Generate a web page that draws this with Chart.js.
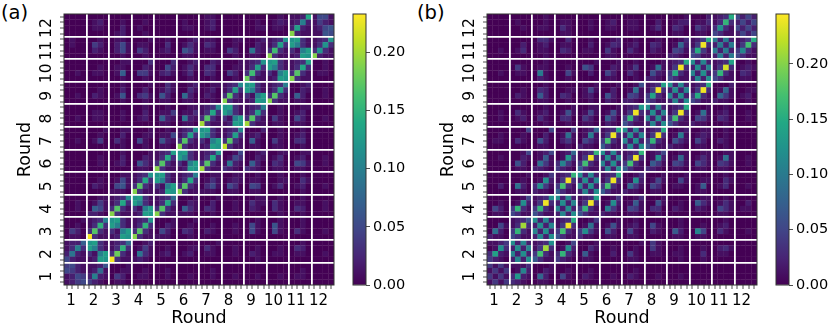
<!DOCTYPE html>
<html>
<head>
<meta charset="utf-8">
<script src="https://cdn.jsdelivr.net/npm/chart.js@4/dist/chart.umd.min.js"></script>
<style>
  body { margin: 0; background: #fff; }
  canvas { position: absolute; top: 0; }
  .soft { filter: blur(0.4px); }
  .tag { position: absolute; top: 0; font: 19.5px "DejaVu Sans"; line-height: 26px; color: #000; }
</style>
</head>
<body>
<span class="tag" style="left:1px">(a)</span>
<span class="tag" style="left:417px">(b)</span>
<canvas id="panelA" class="soft" width="345" height="329" style="left:0"></canvas>
<canvas id="barA" width="62" height="329" style="left:345px"></canvas>
<canvas id="panelB" class="soft" width="345" height="329" style="left:423px"></canvas>
<canvas id="barB" width="62" height="329" style="left:768px"></canvas>
<script>
// one char per cell, in hundredths (base 36), top row first, a space between rounds
const valuesA = [
"0000 0000 0000 0000 0000 0000 0110 0000 0000 0010 112e 1551",
"0000 0120 0010 0010 0000 0100 0120 0000 0010 0121 12a2 1421",
"0000 0110 0020 0100 0000 0110 0120 0000 0011 0110 2d21 1256",
"0000 0000 0120 0010 0000 0000 0000 0000 0000 0000 j211 1165",
"0100 0010 0110 0001 0010 0012 0110 0011 0012 123c cd31 123c",
"0100 0420 0251 0110 0030 0131 0320 0010 0021 13d3 da31 13c3",
"0000 0210 0251 0420 0120 0641 0110 0420 0921 3g31 31ad 3c31",
"0000 0000 0010 0010 0000 0110 0000 0010 0110 j311 12dc j211",
"0000 0000 0011 0003 0003 0012 0021 0001 123c cd31 123d 0010",
"0000 0010 0110 0021 0052 0131 0330 0011 13d3 da31 13e3 0010",
"0010 0110 0170 0441 0231 0130 0320 0420 3g31 31ad 3h31 0110",
"0000 0000 0010 0010 0000 0010 0010 0010 i311 12dc j311 0000",
"0000 0000 0010 0001 0031 0012 0011 123b cd31 123a 0012 0000",
"0000 0010 0020 0020 0131 0031 0120 13d3 da31 13d3 0021 0010",
"0010 0210 0160 0341 0620 0820 0210 3h31 31ad 3h31 0720 0010",
"0000 0000 0010 0010 0110 0110 0010 j311 12dc j311 0110 0000",
"0000 0000 0000 0010 0010 0011 123b cd31 123a 0010 0011 0000",
"0000 0110 0010 0020 0114 0113 13e3 da31 13d3 0010 0120 0000",
"0010 0110 0010 0120 0721 0921 3h31 31ad 3h31 0410 0520 0010",
"0000 0000 0000 0000 0110 0110 k311 12dc k311 0110 0110 0000",
"0000 0001 0011 0001 0010 123c cd31 123b 0002 0010 0010 0000",
"0000 0010 0020 0011 0115 13d3 da31 13d3 0120 0010 0120 0000",
"0010 0140 0310 0510 0621 3h31 31ad 3h31 0710 0410 0330 0000",
"0000 0000 0010 0010 0110 j311 12dc l311 0110 0110 0010 0000",
"0000 0000 0010 0001 123d cd31 123c 0015 0012 0011 0011 0000",
"0000 0010 0020 0021 13e3 da31 13e3 0153 0021 0130 0120 0010",
"0000 0010 0120 0631 3h31 31ad 3h31 1921 0720 0320 0541 0010",
"0000 0000 0000 0110 j311 12dc k311 3210 3210 0110 0110 0000",
"0000 0000 0011 123c cd31 123a 0011 0011 0010 0010 0010 0000",
"0000 0010 0151 13e3 da31 13e3 0131 0121 0110 0011 0031 0000",
"0000 0210 0561 3h31 31ad 3h31 0351 0530 0540 0130 0120 0010",
"0000 0000 1110 j311 12dc j311 1110 0110 0110 0000 0010 0000",
"0000 0011 123b cd31 1238 0001 0001 0000 0011 0010 0010 0000",
"0010 0141 13e3 da31 13e3 0021 0020 0010 0311 0310 0110 0010",
"0010 0751 3h31 31ad 3h31 0731 0320 0010 0210 0310 0320 0010",
"0000 2210 j311 12dc j311 1110 0010 0000 0000 0010 0010 0000",
"0001 123a cd31 123c 0001 0001 0000 0000 0010 0010 0010 0000",
"0010 13f3 da31 13f3 0021 0010 0010 0010 0510 0610 0010 0000",
"0420 3h31 31ad 3h31 0520 0320 0210 0010 0510 0510 0310 0010",
"0110 n311 12dc j311 1110 0010 0000 0000 0000 0000 0000 0000",
"1227 cd31 1238 0012 0000 0000 0001 0000 0000 0000 0010 0000",
"13a3 da31 13f3 0141 0010 0011 0310 0010 0010 0010 0320 0000",
"2921 31ad 3i31 0931 0120 0120 0110 0010 0210 0110 0110 0010",
"5211 12dc n311 1210 0000 0000 0000 0000 0010 0000 0000 0000",
"4521 1126 0001 0000 0000 0000 0000 0000 0000 0000 0000 0000",
"5421 1281 0011 0010 0010 0000 0010 0000 0000 0000 0010 0000",
"1254 2a21 0420 0110 0010 0010 0010 0010 0010 0010 0110 0000",
"1245 4210 0110 0000 0000 0000 0000 0000 0000 0000 0000 0000"
];
const valuesB = [
"0000 0000 0010 0000 0000 0000 0000 0000 0001 0002 123f 5252",
"0000 0100 0010 0110 0010 0120 0110 0020 0122 0113 13g3 2525",
"0000 0010 0110 0310 0010 0110 0110 0130 0320 0421 3c31 5252",
"0000 0000 0000 0110 0000 0000 0000 0000 0110 0110 5311 2525",
"0000 0000 0331 0030 0010 0012 0010 0010 0013 124f a2a2 124f",
"0000 0020 0120 0110 0020 0132 0120 0320 0182 14o3 2a2a 14h3",
"0010 0130 0110 0320 0110 0410 0310 0210 0541 4f41 a2a2 4b31",
"0000 0000 0010 0000 0000 0110 0000 0000 2210 5411 2a2a 5311",
"0000 0000 0010 0000 0001 0001 0010 0001 123f c2b2 123e 0010",
"0000 0410 0110 0010 0640 0021 0140 0191 14o3 2c2b 14n3 0121",
"0010 0110 0a10 0051 0020 0520 0310 0621 4f31 b2c2 4g31 0320",
"0000 0000 0210 0010 0000 0110 0010 2210 5311 2b2c 5311 0110",
"0000 0000 0010 0000 0001 0001 0016 123e c2b2 123f 0002 0000",
"0000 0010 0320 0011 0151 0020 0191 14o3 2c2b 14o3 0181 0011",
"0000 0210 0720 0320 0120 0620 0541 4e31 b2c2 4f31 0841 0120",
"0000 0000 0110 0010 0010 0210 2210 5311 2b2c 5311 2110 0010",
"0000 0000 0010 0001 0011 0001 123d c2b2 123f 0001 0010 0000",
"0010 0310 0120 0161 0151 0161 14o3 2c2b 14o3 0191 0120 0010",
"0010 0120 0310 0330 0420 0730 4g31 b2c2 4h31 0541 0320 0010",
"0000 0000 0010 0010 0110 0210 6311 2b2c 6311 2110 0010 0000",
"0000 0005 0005 0004 0128 123f c2b2 123f 0012 0011 0010 0000",
"0010 0010 0020 0191 01a1 14o3 2c2b 14o3 01a1 0121 0010 0000",
"0110 0310 0620 0241 0531 4h31 b2c2 4g31 0631 0520 0210 0000",
"0000 0000 0110 0010 2110 7311 2b2c 6311 2110 0110 0010 0000",
"0000 0015 0125 0128 123g c2b2 123g 0125 0011 0011 0011 0000",
"0010 0021 0171 01d3 14o3 2c2b 14o3 01c2 0181 0131 0191 0010",
"0000 0620 0941 3b41 4h31 b2c2 4h31 0741 0541 0531 0431 0010",
"0000 0110 2210 4210 7311 2b2c 7311 3210 0110 0110 0110 0000",
"0000 0001 0014 123g c2b2 123f 0013 0001 0001 0000 0010 0000",
"0000 0010 01c2 14o3 2c2b 14o3 01c2 0151 0051 0011 0031 0000",
"0020 0920 3c41 4h31 b2c2 4h31 0841 0530 0110 0170 0130 0010",
"0000 0110 2110 7311 2b2c 7311 2110 0110 0000 0110 0000 0000",
"0000 0015 123c c2b2 123e 0014 0013 0001 0000 0011 0010 0000",
"0010 01c2 14o3 2c2b 14o3 01c2 0171 0061 0010 0731 0131 0020",
"0520 4g31 4g31 b2c2 4g31 0a41 0541 0330 0210 0210 0531 0110",
"0110 5311 6311 2b2c 6311 2110 0110 0010 0000 0000 0110 0000",
"0000 1236 c2b2 123f 0014 0001 0010 0000 0010 0000 0010 0000",
"0051 13l3 2c2b 14o3 0191 0161 0120 0510 0010 0010 0120 0000",
"0920 4g31 b2c2 4h31 4c41 0620 0510 0210 0720 0b50 0310 0010",
"2110 5311 2b2c 6311 3110 0110 0110 0000 0110 0110 0000 0000",
"1124 c2b2 123c 0015 0001 0000 0001 0410 0000 0000 0000 0000",
"01c3 2c2b 14l3 01c2 0031 0010 0010 0410 0010 0010 0231 0000",
"3e21 b2c2 4h31 3g31 0710 0020 0410 0110 0110 0030 0110 0000",
"4210 2b2c 7311 4210 0110 0000 0110 0000 0010 0010 0000 0000",
"4141 1113 0001 0000 0000 0000 0000 0000 0000 0000 0000 0000",
"1414 01b2 0021 0010 0010 0000 0010 0000 0000 0000 0000 0000",
"4141 3d21 0820 0510 0210 0010 0210 0010 0010 0000 0000 0000",
"1414 3210 0110 0000 0000 0000 0000 0000 0000 0000 0000 0000"
];
const roundLabels = ["1","2","3","4","5","6","7","8","9","10","11","12"];
const barTicks = [0, 0.05, 0.10, 0.15, 0.20];
const maxA = 0.233;
const maxB = 0.245;
const viridis = ["#440154","#482475","#414487","#355f8d","#2a788e","#21918c","#22a884","#44bf70","#7ad151","#bddf26","#fde725"];

const cellsPerRound = 4;
const cellCount = roundLabels.length * cellsPerRound;
const tickFont = { family: "DejaVu Sans", size: 15 };
const yTickFont = { family: "DejaVu Sans", size: 15.5 };
const barFont = { family: "DejaVu Sans", size: 14.5 };
const titleFont = { family: "DejaVu Sans", size: 17.5 };

function hexToRgb(h) {
    return [1, 3, 5].map(i => parseInt(h.substr(i, 2), 16));
}

function colorFor(v, max) {
    let t = Math.min(v / max, 1) * (viridis.length - 1);
    let i = Math.min(Math.floor(t), viridis.length - 2);
    let a = hexToRgb(viridis[i]), b = hexToRgb(viridis[i + 1]);
    let c = a.map((x, k) => Math.round(x + (b[k] - x) * (t - i)));
    return "rgb(" + c.join(",") + ")";
}

function toCells(rows) {
    let cells = [];
    rows.forEach((row, r) => {
        row.replace(/ /g, "").split("").forEach((ch, c) => {
            cells.push({ x: c, y: cellCount - 1 - r, v: parseInt(ch, 36) / 100 });
        });
    });
    return cells;
}

function isBoundary(value) {
    return (value + 0.5) % cellsPerRound === 0;
}

// a tick on every cell plus one on each round boundary for the white line
const tickValues = [];
for (let i = 0; i < cellCount; i++) {
    tickValues.push(i);
    if (i < cellCount - 1 && isBoundary(i + 0.5)) tickValues.push(i + 0.5);
}

const frame = {
    id: "frame",
    afterDraw(chart) {
        let a = chart.chartArea, ctx = chart.ctx;
        ctx.save();
        ctx.strokeStyle = "#333";
        ctx.lineWidth = 1;
        ctx.strokeRect(a.left, a.top, a.right - a.left, a.bottom - a.top);
        ctx.restore();
    }
};

function roundAxis(extra) {
    return Object.assign({
        type: "linear",
        min: -0.5,
        max: cellCount - 0.5,
        border: { display: false },
        afterBuildTicks: s => { s.ticks = tickValues.map(value => ({ value })); },
        grid: {
            z: 1,
            lineWidth: c => isBoundary(c.tick.value) ? 1.8 : 0,
            color: c => isBoundary(c.tick.value) ? "#fff" : "rgba(0,0,0,0)",
            tickLength: 4,
            tickWidth: 0.8,
            tickColor: c => isBoundary(c.tick.value) ? "rgba(0,0,0,0)" : "#222"
        }
    }, extra);
}

function tickText(value) {
    return (value - 1) % cellsPerRound === 0 ? roundLabels[(value - 1) / cellsPerRound] : "";
}

function heatmap(id, rows, max) {
    return new Chart(document.getElementById(id), {
        type: "scatter",
        data: {
            datasets: [{
                data: toCells(rows),
                pointStyle: "rect",
                pointRadius: 4.2,
                pointBorderWidth: 0,
                backgroundColor: c => colorFor(c.raw.v, max)
            }]
        },
        options: {
            responsive: false,
            animation: false,
            events: [],
            layout: { padding: { top: 14, right: 11 } },
            plugins: { legend: { display: false }, tooltip: { enabled: false } },
            scales: {
                x: roundAxis({
                    afterFit: s => { s.height = 44; },
                    ticks: { autoSkip: false, maxRotation: 0, padding: 3, labelOffset: -1.5, color: "#000", font: tickFont, callback: tickText },
                    title: { display: true, text: "Round", color: "#000", font: titleFont, padding: { top: 0, bottom: 0 } }
                }),
                y: roundAxis({
                    afterFit: s => { s.width = 64; },
                    ticks: { autoSkip: false, minRotation: 90, maxRotation: 90, crossAlign: "center", padding: 3, color: "#000", font: yTickFont, callback: tickText },
                    title: { display: true, text: "Round", color: "#000", font: titleFont, padding: { top: 15, bottom: 0 } }
                })
            }
        },
        plugins: [frame]
    });
}

function colorbar(id, max) {
    return new Chart(document.getElementById(id), {
        type: "bar",
        data: {
            labels: [""],
            datasets: [{
                data: [max],
                barPercentage: 1,
                categoryPercentage: 1,
                backgroundColor: c => {
                    let a = c.chart.chartArea;
                    if (!a) return viridis[0];
                    let g = c.chart.ctx.createLinearGradient(0, a.bottom, 0, a.top);
                    viridis.forEach((col, i) => g.addColorStop(i / (viridis.length - 1), col));
                    return g;
                }
            }]
        },
        options: {
            responsive: false,
            animation: false,
            events: [],
            layout: { padding: { top: 14, left: 8, bottom: 44 } },
            plugins: { legend: { display: false }, tooltip: { enabled: false } },
            scales: {
                x: { display: false },
                y: {
                    position: "right",
                    min: 0,
                    max: max,
                    border: { display: false },
                    afterBuildTicks: s => { s.ticks = barTicks.map(value => ({ value })); },
                    afterFit: s => { s.width = 41; },
                    grid: { drawOnChartArea: false, tickLength: 4, tickWidth: 0.8, tickColor: "#222" },
                    ticks: { padding: 3, color: "#000", font: barFont, callback: v => v.toFixed(2) }
                }
            }
        },
        plugins: [frame]
    });
}

heatmap("panelA", valuesA, maxA);
colorbar("barA", maxA);
heatmap("panelB", valuesB, maxB);
colorbar("barB", maxB);
</script>
</body>
</html>
